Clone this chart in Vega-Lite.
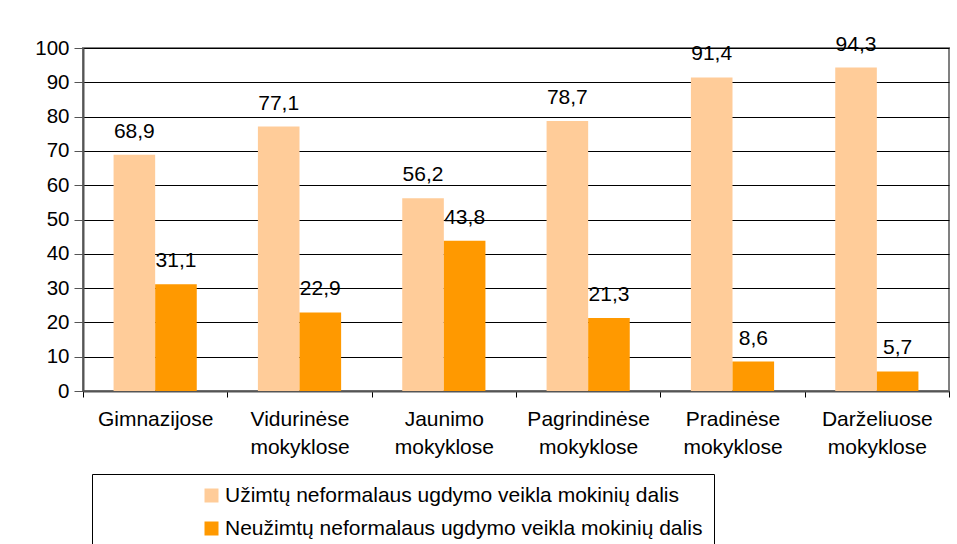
{
  "$schema": "https://vega.github.io/schema/vega-lite/v6.json",
  "width": 866,
  "height": 343,
  "autosize": "none",
  "padding": {"left": 83, "top": 48, "right": 8, "bottom": 153},
  "background": "white",
  "config": {
    "font": "Liberation Sans",
    "locale": {"number": {"decimal": ",", "thousands": " ", "grouping": [3], "currency": ["", ""]}},
    "view": {"stroke": "#808080", "strokeWidth": 2}
  },
  "data": {
    "values": [
      {"school": "Gimnazijose", "series": "Užimtų neformalaus ugdymo veikla mokinių dalis", "value": 68.9},
      {"school": "Gimnazijose", "series": "Neužimtų neformalaus ugdymo veikla mokinių dalis", "value": 31.1},
      {"school": "Vidurinėse mokyklose", "series": "Užimtų neformalaus ugdymo veikla mokinių dalis", "value": 77.1},
      {"school": "Vidurinėse mokyklose", "series": "Neužimtų neformalaus ugdymo veikla mokinių dalis", "value": 22.9},
      {"school": "Jaunimo mokyklose", "series": "Užimtų neformalaus ugdymo veikla mokinių dalis", "value": 56.2},
      {"school": "Jaunimo mokyklose", "series": "Neužimtų neformalaus ugdymo veikla mokinių dalis", "value": 43.8},
      {"school": "Pagrindinėse mokyklose", "series": "Užimtų neformalaus ugdymo veikla mokinių dalis", "value": 78.7},
      {"school": "Pagrindinėse mokyklose", "series": "Neužimtų neformalaus ugdymo veikla mokinių dalis", "value": 21.3},
      {"school": "Pradinėse mokyklose", "series": "Užimtų neformalaus ugdymo veikla mokinių dalis", "value": 91.4},
      {"school": "Pradinėse mokyklose", "series": "Neužimtų neformalaus ugdymo veikla mokinių dalis", "value": 8.6},
      {"school": "Darželiuose mokyklose", "series": "Užimtų neformalaus ugdymo veikla mokinių dalis", "value": 94.3},
      {"school": "Darželiuose mokyklose", "series": "Neužimtų neformalaus ugdymo veikla mokinių dalis", "value": 5.7}
    ]
  },
  "encoding": {
    "x": {
      "field": "school", "type": "nominal", "sort": null,
      "scale": {"paddingInner": 0, "paddingOuter": 0},
      "axis": {
        "title": null, "labelAngle": 0, "labelFontSize": 21, "labelColor": "black",
        "labelExpr": "split(datum.label, ' ')", "labelLineHeight": 28, "labelPadding": 11,
        "tickBand": "extent", "tickSize": 6, "tickColor": "black", "tickWidth": 1,
        "domainColor": "#555555", "domainWidth": 2
      }
    },
    "xOffset": {
      "field": "series", "type": "nominal", "sort": null,
      "scale": {"paddingOuter": 0.735, "paddingInner": 0}
    },
    "y": {
      "field": "value", "type": "quantitative",
      "scale": {"domain": [0, 100], "nice": false},
      "axis": {
        "title": null, "values": [0, 10, 20, 30, 40, 50, 60, 70, 80, 90, 100],
        "labelFontSize": 20.5, "labelColor": "black", "labelPadding": 5,
        "tickSize": 9, "tickColor": "#555555", "tickWidth": 1,
        "domainColor": "#555555", "domainWidth": 2,
        "grid": true, "gridColor": "#000000", "gridWidth": 1
      }
    }
  },
  "layer": [
    {
      "mark": {"type": "bar"},
      "encoding": {
        "color": {
          "field": "series", "type": "nominal", "sort": null,
          "scale": {
            "domain": ["Užimtų neformalaus ugdymo veikla mokinių dalis", "Neužimtų neformalaus ugdymo veikla mokinių dalis"],
            "range": ["#FFCC99", "#FF9900"]
          },
          "legend": {
            "title": null, "orient": "none", "legendX": 9, "legendY": 426,
            "strokeColor": "black", "fillColor": "white", "padding": 11,
            "symbolType": "square", "symbolSize": 196, "symbolStrokeWidth": 0,
            "symbolOffset": 98, "labelFontSize": 21, "labelColor": "black",
            "labelLimit": 700, "rowPadding": 11, "labelOffset": 3
          }
        }
      }
    },
    {
      "mark": {"type": "text", "baseline": "middle", "dy": -23, "fontSize": 21, "color": "black"},
      "encoding": {
        "text": {"field": "value", "type": "quantitative", "format": ".1f"}
      }
    }
  ]
}
